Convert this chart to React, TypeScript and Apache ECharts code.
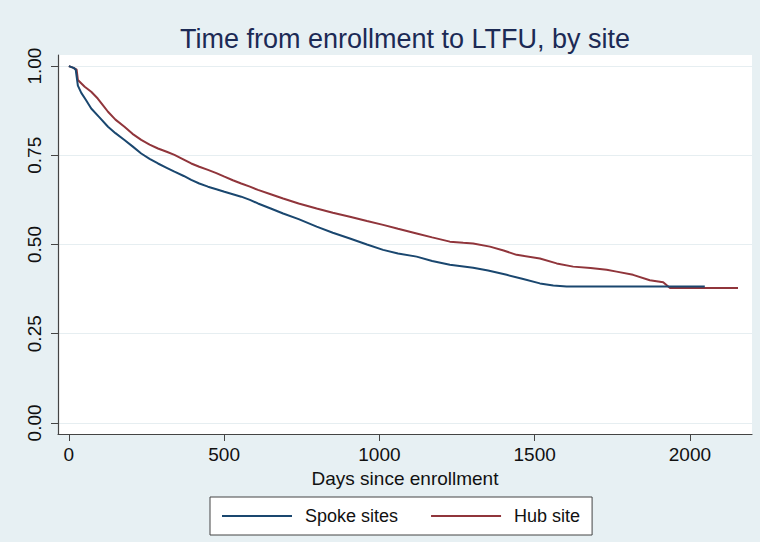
import React, { useEffect, useRef } from "react";
import * as echarts from "echarts";

const spokeDays = [0, 15, 22, 29, 40, 55, 72, 100, 126, 150, 179, 205, 233, 260, 287, 315, 340, 370, 394, 420, 448, 475, 501, 528, 555, 583, 609, 650, 690, 740, 798, 850, 905, 960, 1012, 1060, 1120, 1170, 1227, 1302, 1350, 1410, 1460, 1517, 1560, 1603, 2048];
const spokeSurv = [1.0, 0.995, 0.99, 0.945, 0.925, 0.905, 0.881, 0.855, 0.83, 0.812, 0.793, 0.775, 0.755, 0.74, 0.727, 0.715, 0.704, 0.692, 0.681, 0.671, 0.662, 0.655, 0.648, 0.641, 0.634, 0.625, 0.615, 0.601, 0.587, 0.571, 0.55, 0.533, 0.517, 0.5, 0.485, 0.475, 0.466, 0.454, 0.443, 0.435, 0.427, 0.415, 0.404, 0.391, 0.385, 0.382, 0.382];

const hubDays = [0, 15, 25, 29, 51, 72, 93, 110, 126, 150, 179, 205, 233, 260, 287, 315, 340, 370, 394, 420, 448, 475, 501, 528, 555, 583, 609, 650, 690, 740, 798, 850, 905, 960, 1012, 1060, 1120, 1170, 1227, 1270, 1302, 1356, 1400, 1442, 1517, 1571, 1624, 1680, 1732, 1764, 1817, 1871, 1914, 1936, 2155];
const hubSurv = [1.0, 0.995, 0.99, 0.961, 0.942, 0.928, 0.909, 0.89, 0.872, 0.85, 0.83, 0.81, 0.793, 0.78, 0.769, 0.76, 0.751, 0.738, 0.727, 0.718, 0.709, 0.7, 0.69, 0.68, 0.671, 0.662, 0.653, 0.641, 0.629, 0.615, 0.601, 0.589, 0.578, 0.566, 0.555, 0.544, 0.531, 0.52, 0.508, 0.505, 0.503, 0.494, 0.483, 0.471, 0.461, 0.447, 0.438, 0.434, 0.429, 0.424, 0.415, 0.4, 0.394, 0.378, 0.378];

const xTicks = [0, 500, 1000, 1500, 2000];
const yTicks = [0, 0.25, 0.5, 0.75, 1.0];

const titleText = "Time from enrollment to LTFU, by site";
const xTitle = "Days since enrollment";
const seriesNames = ["Spoke sites", "Hub site"];
const seriesColors = ["#1a476f", "#90353b"];

const FONT = "'Liberation Sans', Arial, Helvetica, sans-serif";

export default function App() {
  const ref = useRef<HTMLDivElement>(null);
  useEffect(() => {
    document.body.style.margin = "0";
    const chart = echarts.init(ref.current!, null, { renderer: "svg" });
    const zip = (a: number[], b: number[]) => a.map((d, i) => [d, b[i]]);
    chart.setOption({
      animation: false,
      backgroundColor: "#e7f0f3",
      textStyle: { fontFamily: FONT },
      graphic: [
        {
          type: "text",
          x: 405,
          y: 39,
          style: {
            text: titleText,
            fill: "#1c2a55",
            font: `27px ${FONT}`,
            align: "center",
            verticalAlign: "middle",
          },
        },
      ],
      grid: {
        left: 58,
        right: 8,
        top: 55,
        bottom: 108,
        show: true,
        backgroundColor: "#ffffff",
        borderWidth: 0,
      },
      legend: {
        left: 210,
        top: 497,
        padding: [10, 12],
        backgroundColor: "#ffffff",
        borderColor: "#444",
        borderWidth: 1,
        borderRadius: 0,
        icon: "rect",
        itemWidth: 70,
        itemHeight: 2,
        itemGap: 33,
        data: seriesNames.map((n, i) => ({ name: n, itemStyle: { color: seriesColors[i] } })),
        textStyle: { fontSize: 18, color: "#111", fontFamily: FONT, padding: [0, 0, 0, 8], lineHeight: 18 },
      },
      xAxis: {
        type: "value",
        min: -35,
        max: 2200,
        name: xTitle,
        nameLocation: "middle",
        nameGap: 34,
        nameTextStyle: { fontSize: 19, color: "#111", fontFamily: FONT },
        axisLine: { show: true, onZero: false, lineStyle: { color: "#444", width: 1.2 } },
        axisTick: { show: true, length: 7, customValues: xTicks, lineStyle: { color: "#444" } },
        axisLabel: {
          customValues: xTicks,
          fontSize: 19,
          color: "#111",
          margin: 11,
          fontFamily: FONT,
          formatter: (v: number) => String(v),
        },
        splitLine: { show: false },
      },
      yAxis: {
        type: "value",
        min: -0.031,
        max: 1.031,
        axisLine: { show: true, onZero: false, lineStyle: { color: "#444", width: 1.2 } },
        axisTick: { show: true, length: 7, customValues: yTicks, lineStyle: { color: "#444" } },
        axisLabel: {
          customValues: yTicks,
          rotate: 90,
          fontSize: 19,
          color: "#111",
          margin: 14,
          fontFamily: FONT,
          formatter: (v: number) => v.toFixed(2),
        },
        splitLine: { show: true, lineStyle: { color: "#e6eef1", width: 1 } },
      },
      series: [
        {
          name: seriesNames[0],
          type: "line",
          symbol: "none",
          data: zip(spokeDays, spokeSurv),
          lineStyle: { color: seriesColors[0], width: 2 },
          itemStyle: { color: seriesColors[0] },
          z: 3,
        },
        {
          name: seriesNames[1],
          type: "line",
          symbol: "none",
          data: zip(hubDays, hubSurv),
          lineStyle: { color: seriesColors[1], width: 2 },
          itemStyle: { color: seriesColors[1] },
          z: 2,
        },
      ],
    });
    return () => chart.dispose();
  }, []);
  return <div ref={ref} style={{ width: 760, height: 542 }} />;
}
